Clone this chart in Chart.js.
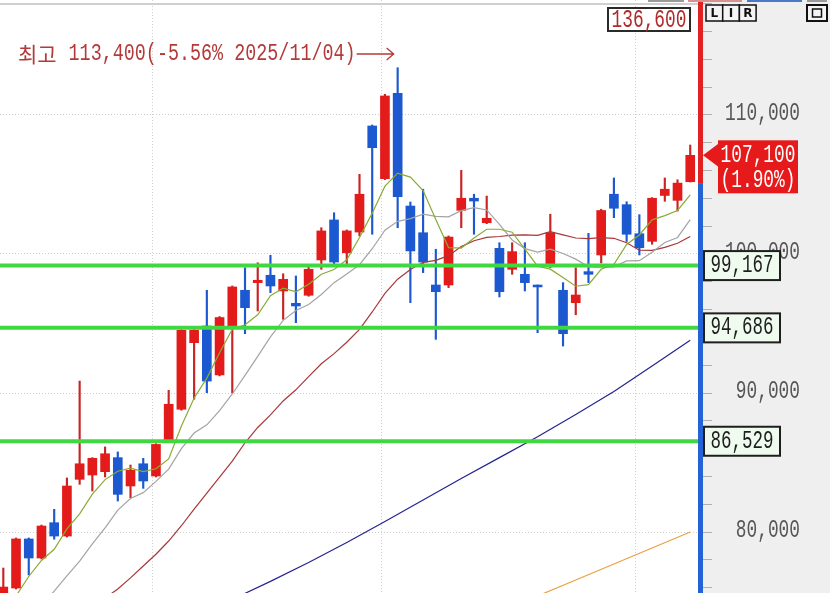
<!DOCTYPE html>
<html><head><meta charset="utf-8">
<script src="https://cdn.jsdelivr.net/npm/chart.js@4.4.0/dist/chart.umd.min.js"></script>
<style>html,body{margin:0;padding:0;background:#fff;overflow:hidden}#wrap{width:830px;height:593px;position:relative}</style>
</head><body><div id="wrap"><canvas id="c" width="830" height="593"></canvas></div>
<script>
// ---- data ----
const dates = ['2025/09/15','2025/09/16','2025/09/17','2025/09/18','2025/09/19','2025/09/22','2025/09/23','2025/09/24','2025/09/25','2025/09/26','2025/09/29','2025/09/30',
'2025/10/01','2025/10/02','2025/10/10','2025/10/13','2025/10/14','2025/10/15','2025/10/16','2025/10/17','2025/10/20','2025/10/21','2025/10/22','2025/10/23','2025/10/24','2025/10/27','2025/10/28','2025/10/29','2025/10/30','2025/10/31',
'2025/11/03','2025/11/04','2025/11/05','2025/11/06','2025/11/07','2025/11/10','2025/11/11','2025/11/12','2025/11/13','2025/11/14','2025/11/17','2025/11/18','2025/11/19','2025/11/20','2025/11/21','2025/11/24','2025/11/25','2025/11/26','2025/11/27','2025/11/28',
'2025/12/01','2025/12/02','2025/12/03','2025/12/04','2025/12/05'];
const opens  = [75040,75970,79500,78130,80670,79710,83790,84100,84340,85350,83310,84910,84030,86550,88830,93620,94820,91300,94700,97390,97940,98470,97340,96450,97030,99570,102450,100090,101580,109210,105420,111560,103450,101530,97770,97770,103140,104010,102250,100410,98900,98540,97770,99260,97390,96500,98730,99930,104300,103550,101460,100910,104210,103860,105200];
const highs  = [77410,79570,79570,80500,81630,83890,90860,85350,86120,85760,84820,85300,86350,90190,94560,94560,97390,95500,97700,99010,99370,99910,98580,98420,99090,101890,102970,101730,105730,109280,111490,113400,103740,104660,100340,101300,106020,104300,104170,100810,100810,100810,97770,102860,97940,99010,101490,103220,105470,103760,102830,104060,105470,105340,107840];
const lows   = [74700,75900,76910,78060,79480,79640,83430,82950,83960,82230,82470,83140,83960,86500,88760,89550,90020,91230,90020,94270,95900,97220,95300,95060,96960,98900,99090,99140,101300,101420,105350,101890,96500,98660,93860,97580,101890,101420,102180,96910,98540,97340,94340,99010,93380,95630,97940,99350,102610,100900,99930,100700,103790,103090,105180];
const closes = [76040,79500,78130,80430,79710,83310,84910,85300,85630,82710,84440,83670,86300,89190,94510,94510,90860,95430,97630,96140,98110,97700,98180,96260,98900,101660,99420,101660,104300,107650,111370,104120,100220,99420,97290,101220,104010,103810,102570,97290,100170,97940,97630,101530,94270,97050,98540,103130,103290,101420,100450,104010,104660,105100,107100];
const ma5  = [null,75400,76800,77950,78760,80220,81300,82730,83770,84370,84600,84350,84550,85260,87620,89640,91070,92900,94590,94910,95630,97000,97550,97280,97830,98540,98880,99580,101190,102940,104880,105820,105530,104560,102480,100460,100430,101150,101780,101780,101570,100350,99120,98910,98310,97680,97800,98900,99260,100690,101370,102460,102760,103130,104260];
const ma10 = [null,null,null,74700,75750,76850,77900,79150,80300,81570,82410,82830,83640,84520,86000,87120,87710,88730,89930,91270,92630,94040,95230,95930,96370,97090,97940,98560,99230,100380,101710,102350,102550,102870,102710,102670,103120,103340,103170,102130,101010,100390,100130,100350,100040,99630,99080,99010,99080,99500,99520,100130,100830,101190,102470];
const ma20 = [null,null,null,null,null,null,null,null,75250,75900,76700,77550,78400,79350,80450,81650,82800,83950,85100,86420,87520,88430,89430,90230,91180,92100,92830,93650,94580,95830,97170,98190,98890,99400,99540,99880,100530,100950,101200,101260,101360,101370,101340,101610,101380,101150,101100,101180,101130,100810,100270,100260,100480,100770,101260];
const ma60Idx  = [18,21,24,27,30,33,36,39,42,45,48,51,54];
const ma60     = [75150,76450,77800,79250,80750,82300,83850,85350,86850,88450,90100,91950,93800];
const ma120Idx = [42,45,48,51,54];
const ma120    = [75400,76550,77700,78850,80000];
const levels = [99167, 94686, 86529];
const yTickValues = [76000,78000,80000,82000,84000,86000,88000,90000,92000,94000,96000,98000,100000,102000,104000,106000,108000,110000,112000,114000,116000,118000];
const yLabelValues = [110000, 100000, 90000, 80000];
const prevClose = 105100;
const lastPrice = 107100;
const changePct = 1.90;
const upperLimit = 136600;

// ---- axis geometry (not data) ----
const Y_MIN = 75612, Y_MAX = 118273;
const X_MIN = -0.26, X_MAX = 54.61;

const fmt = v => v.toLocaleString('en-US');
const idx = dates.map((d, i) => i);
const isUp = i => closes[i] >= opens[i];
const RED = '#e31b1b', BLUE = '#1c58d0';
const series = arr => arr.map((v, i) => v == null ? null : {x: i, y: v}).filter(Boolean);
const sparse = (ix, arr) => ix.map((x, k) => ({x: x, y: arr[k]}));
const monthStarts = idx.filter(i => i > 0 && dates[i].slice(5, 7) !== dates[i - 1].slice(5, 7));
const highIdx = highs.indexOf(Math.max(...highs));
const highVal = highs[highIdx];

function mono(ctx, s, x, y, size, sx, color, align) {
  ctx.save();
  ctx.translate(x, y); ctx.scale(sx, 1);
  ctx.font = size + 'px "Liberation Mono", "DejaVu Sans Mono", monospace';
  ctx.fillStyle = color; ctx.textAlign = align; ctx.textBaseline = 'middle';
  ctx.fillText(s, 0, 0);
  ctx.restore();
}

const hts = {
  id: 'hts',
  beforeDraw(chart) {
    const {ctx, chartArea: a} = chart;
    ctx.save();
    ctx.fillStyle = '#ffffff'; ctx.fillRect(0, 0, a.right, 593);
    ctx.fillStyle = '#efefef'; ctx.fillRect(a.right, 0, 830 - a.right, 593);
    ctx.fillStyle = '#cfcfcf'; ctx.fillRect(0, 3, a.right, 2);
    ctx.restore();
  },
  afterDraw(chart) {
    const {ctx, chartArea: a} = chart;
    const ys = chart.scales.y, xs = chart.scales.x;
    const py = v => ys.getPixelForValue(v);
    ctx.save();
    // axis line: red above previous close, blue below
    const yp = py(prevClose);
    ctx.fillStyle = '#e02222'; ctx.fillRect(a.right, 0, 5, yp);
    ctx.fillStyle = '#2463d6'; ctx.fillRect(a.right, yp, 5, 593 - yp);
    // y labels
    yLabelValues.forEach(v => mono(ctx, fmt(v), 800, py(v) - 2, 25, 0.713, '#565656', 'right'));
    // level boxes
    levels.forEach(v => {
      const y = py(v);
      ctx.fillStyle = '#eefbee'; ctx.fillRect(704, y - 15, 76, 30);
      ctx.strokeStyle = '#1e1e1e'; ctx.lineWidth = 2; ctx.strokeRect(704, y - 14.5, 76, 29);
      mono(ctx, fmt(v), 742, y, 25, 0.7, '#1e1e1e', 'center');
    });
    // current price box
    const yc = py(lastPrice);
    ctx.fillStyle = '#e61a1a';
    ctx.beginPath(); ctx.moveTo(703, yc); ctx.lineTo(719, yc - 12); ctx.lineTo(719, yc + 12); ctx.closePath(); ctx.fill();
    ctx.fillRect(718, yc - 15, 80, 53);
    mono(ctx, fmt(lastPrice), 758, yc, 25, 0.713, '#ffffff', 'center');
    mono(ctx, '(' + changePct.toFixed(2) + '%)', 758, yc + 25, 25, 0.713, '#ffffff', 'center');
    // upper limit box
    ctx.fillStyle = '#ffffff'; ctx.fillRect(608, 8, 82, 23);
    ctx.strokeStyle = '#2a2a2a'; ctx.lineWidth = 2; ctx.strokeRect(608, 8, 82, 23);
    mono(ctx, fmt(upperLimit), 649, 20, 25, 0.713, '#b02a2a', 'center');
    // high annotation
    const tipX = xs.getPixelForValue(highIdx) - 4;
    const ay = 54;
    const pct = ((lastPrice - highVal) / highVal * 100).toFixed(2);
    ctx.strokeStyle = '#b43a3a'; ctx.lineWidth = 1.3;
    ctx.beginPath(); ctx.moveTo(tipX - 37, ay); ctx.lineTo(tipX, ay);
    ctx.moveTo(tipX - 7, ay - 6); ctx.lineTo(tipX, ay); ctx.lineTo(tipX - 7, ay + 6); ctx.stroke();
    const txt = fmt(highVal) + '(' + pct + '% ' + dates[highIdx] + ')';
    mono(ctx, txt, tipX - 38, ay, 23, 0.8, '#b43a3a', 'right');
    ctx.font = '21px "Noto Sans CJK KR"';
    const tw = txt.length * 23 * 0.6 * 0.8;
    ctx.fillStyle = '#b43a3a'; ctx.textAlign = 'right'; ctx.textBaseline = 'middle';
    ctx.fillText('최고', tipX - 38 - tw - 12, ay);
    // L I R buttons
    ctx.strokeStyle = '#111'; ctx.lineWidth = 1.5;
    ctx.font = 'bold 12px "DejaVu Sans"'; ctx.fillStyle = '#111'; ctx.textAlign = 'center';
    ['L', 'I', 'R'].forEach((t, k) => {
      const bx = 706 + k * 16.7;
      ctx.fillStyle = '#f4f4f4'; ctx.fillRect(bx, 5, 16.7, 16);
      ctx.strokeRect(bx, 5, 16.7, 16);
      ctx.fillStyle = '#111'; ctx.fillText(t, bx + 8.4, 13.5);
    });
    ctx.fillStyle = '#f4f4f4'; ctx.fillRect(807, 5, 20, 16);
    ctx.lineWidth = 2; ctx.strokeRect(807, 5, 20, 16);
    ctx.lineWidth = 1.5; ctx.strokeRect(812.5, 9, 9, 8);
    // top strips
    ctx.fillStyle = '#9a9a9a'; ctx.fillRect(648, 0, 36, 2);
    ctx.fillStyle = '#d89090'; ctx.fillRect(688, 0, 54, 2);
    ctx.fillStyle = '#4a78c8'; ctx.fillRect(747, 0, 55, 2);
    ctx.fillStyle = '#9a9a9a'; ctx.fillRect(807, 0, 20, 2);
    ctx.restore();
  }
};

const lineDs = (data, color, order, width) => ({type: 'line', data, borderColor: color, borderWidth: width || 1.2,
  pointRadius: 0, tension: 0, fill: false, order});

new Chart(document.getElementById('c'), {
  type: 'bar',
  data: {
    datasets: [
      ...levels.map(v => lineDs([{x: X_MIN - 1, y: v}, {x: X_MAX + 1, y: v}], '#40d840', 0, 4)),
      lineDs(series(ma5), '#8aab36', 1),
      lineDs(series(ma10), '#a4a4a4', 2),
      lineDs(series(ma20), '#a83838', 2),
      lineDs(sparse(ma60Idx, ma60), '#232390', 2),
      lineDs(sparse(ma120Idx, ma120), '#eba040', 2),
      {type: 'bar', data: idx.map(i => ({x: i, y: [opens[i], closes[i]]})),
        backgroundColor: c => isUp(c.dataIndex) ? RED : BLUE, borderWidth: 0,
        barThickness: 9, grouped: false, order: 5},
      {type: 'bar', data: idx.map(i => ({x: i, y: [lows[i], highs[i]]})),
        backgroundColor: c => isUp(c.dataIndex) ? '#c82424' : BLUE, borderWidth: 0,
        barThickness: 1.5, grouped: false, order: 6}
    ]
  },
  options: {
    responsive: false, animation: false, events: [],
    layout: {padding: 0},
    plugins: {legend: {display: false}, tooltip: {enabled: false}, title: {display: false}},
    scales: {
      x: {type: 'linear', min: X_MIN, max: X_MAX, offset: false,
        afterBuildTicks: s => { s.ticks = monthStarts.map(i => ({value: i - 0.3})); },
        afterFit: s => { s.height = 0; },
        ticks: {display: false},
        grid: {color: '#cfcfcf', drawTicks: false, offset: false},
        border: {display: false, dash: [1, 2]}},
      y: {type: 'linear', position: 'right', min: Y_MIN, max: Y_MAX,
        afterBuildTicks: s => { s.ticks = yTickValues.map(v => ({value: v})); },
        afterFit: s => { s.width = 132; },
        ticks: {display: false},
        grid: {color: c => (c.tick && c.tick.value % 10000 === 0) ? '#cdcdcd' : 'rgba(0,0,0,0)',
          tickColor: '#b0b0b0', tickLength: 14, drawTicks: true},
        border: {display: false, dash: [1, 2]}}
    }
  },
  plugins: [hts]
});
</script></body></html>
